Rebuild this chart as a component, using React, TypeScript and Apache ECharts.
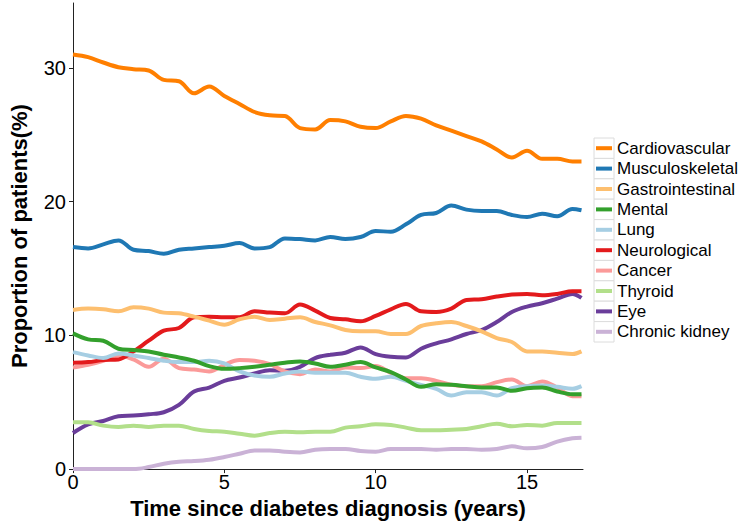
import React, { useEffect, useRef } from "react";
import * as echarts from "echarts";

const years = [0, 0.5, 1, 1.5, 2, 2.5, 3, 3.5, 4, 4.5, 5, 5.5, 6, 6.5, 7, 7.5, 8, 8.5, 9, 9.5, 10, 10.5, 11, 11.5, 12, 12.5, 13, 13.5, 14, 14.5, 15, 15.5, 16, 16.5, 16.8];

const cardiovascular = [31.0, 30.8, 30.4, 30.05, 29.9, 29.8, 29.1, 29.0, 28.1, 28.6, 27.9, 27.3, 26.7, 26.45, 26.4, 25.5, 25.4, 26.1, 26.0, 25.6, 25.5, 26.0, 26.4, 26.2, 25.7, 25.3, 24.9, 24.5, 23.9, 23.3, 23.8, 23.2, 23.2, 23.0, 23.0];
const musculoskeletal = [16.6, 16.5, 16.8, 17.1, 16.4, 16.3, 16.1, 16.4, 16.5, 16.6, 16.7, 16.9, 16.5, 16.6, 17.25, 17.2, 17.1, 17.35, 17.2, 17.35, 17.8, 17.75, 18.3, 19.0, 19.15, 19.7, 19.4, 19.3, 19.3, 19.0, 18.85, 19.1, 18.9, 19.45, 19.35];
const gastrointestinal = [11.9, 12.0, 11.95, 11.8, 12.1, 12.0, 11.7, 11.65, 11.4, 11.1, 10.8, 11.2, 11.4, 11.15, 11.25, 11.35, 11.0, 10.75, 10.4, 10.3, 10.3, 10.1, 10.1, 10.7, 10.9, 11.0, 10.7, 10.3, 9.8, 9.5, 8.8, 8.8, 8.7, 8.6, 8.8];
const mental = [10.15, 9.7, 9.6, 9.0, 8.9, 8.8, 8.55, 8.35, 8.1, 7.7, 7.5, 7.55, 7.65, 7.8, 7.95, 8.05, 7.9, 7.65, 7.8, 8.0, 7.6, 7.25, 6.7, 6.15, 6.35, 6.3, 6.2, 6.1, 6.1, 5.85, 6.05, 6.1, 5.8, 5.6, 5.6];
const lung = [8.75, 8.5, 8.3, 8.65, 8.5, 8.3, 8.1, 8.0, 8.0, 8.1, 7.9, 7.3, 7.0, 6.9, 7.15, 7.3, 7.2, 7.2, 7.2, 6.9, 6.75, 6.9, 6.6, 6.3, 6.0, 5.5, 5.75, 5.75, 5.5, 6.05, 6.2, 6.25, 6.15, 6.0, 6.2];
const neurological = [7.95, 8.0, 8.15, 8.2, 8.8, 9.6, 10.35, 10.55, 11.35, 11.4, 11.35, 11.35, 11.8, 11.7, 11.65, 12.3, 11.85, 11.3, 11.2, 11.05, 11.45, 11.95, 12.35, 11.8, 11.75, 12.0, 12.65, 12.7, 12.9, 13.05, 13.1, 13.0, 13.1, 13.3, 13.3];
const cancer = [7.6, 7.8, 8.1, 8.5, 8.2, 7.65, 8.25, 7.55, 7.45, 7.3, 7.8, 8.15, 8.1, 7.85, 7.3, 7.1, 7.45, 7.3, 7.6, 7.55, 7.7, 7.2, 6.8, 6.8, 6.6, 6.3, 6.2, 6.2, 6.5, 6.7, 6.2, 6.55, 6.1, 5.45, 5.45];
const thyroid = [3.5, 3.5, 3.25, 3.15, 3.25, 3.15, 3.25, 3.25, 3.0, 2.85, 2.8, 2.65, 2.5, 2.7, 2.8, 2.75, 2.8, 2.8, 3.1, 3.2, 3.35, 3.3, 3.1, 2.9, 2.9, 2.95, 3.0, 3.2, 3.4, 3.2, 3.3, 3.25, 3.45, 3.45, 3.45];
const eye = [2.7, 3.35, 3.6, 3.95, 4.0, 4.1, 4.25, 4.8, 5.8, 6.1, 6.6, 6.85, 7.15, 7.4, 7.35, 7.65, 8.3, 8.55, 8.7, 9.1, 8.6, 8.4, 8.35, 9.0, 9.4, 9.7, 10.1, 10.4, 11.0, 11.75, 12.15, 12.4, 12.75, 13.1, 12.8];
const chronicKidney = [0, 0, 0, 0, 0, 0.15, 0.4, 0.55, 0.6, 0.7, 0.9, 1.15, 1.4, 1.4, 1.3, 1.25, 1.45, 1.5, 1.5, 1.35, 1.3, 1.5, 1.5, 1.5, 1.45, 1.5, 1.5, 1.45, 1.5, 1.7, 1.55, 1.65, 2.05, 2.3, 2.35];

const seriesNames = ["Cardiovascular", "Musculoskeletal", "Gastrointestinal", "Mental", "Lung", "Neurological", "Cancer", "Thyroid", "Eye", "Chronic kidney"];
const seriesValues = [cardiovascular, musculoskeletal, gastrointestinal, mental, lung, neurological, cancer, thyroid, eye, chronicKidney];
const seriesColors = ["#ff7f00", "#1f78b4", "#fdbf6f", "#33a02c", "#a6cee3", "#e31a1c", "#fb9a99", "#b2df8a", "#6a3d9a", "#cab2d6"];

const xTicks = [0, 5, 10, 15];
const yTicks = [0, 10, 20, 30];

const FONT = "'Liberation Sans', Arial, Helvetica, sans-serif";

export default function App() {
  const ref = useRef<HTMLDivElement>(null);
  useEffect(() => {
    document.body.style.margin = "0";
    if (!ref.current) return;
    const chart = echarts.init(ref.current, null, { renderer: "svg" });
    const rowH = 20.4;
    const keyBoxes = seriesNames.map((_, i) => ({
      type: "rect",
      shape: { x: 594, y: 138 + i * rowH, width: 20, height: rowH },
      style: { fill: "#ffffff", stroke: "#dcdcdc", lineWidth: 1 },
      z: 0,
      silent: true,
    }));
    chart.setOption({
      animation: false,
      backgroundColor: "#ffffff",
      textStyle: { fontFamily: FONT },
      grid: { left: 68, right: 161, top: 3, bottom: 48, containLabel: false },
      graphic: keyBoxes,
      legend: {
        orient: "vertical",
        left: 596,
        top: 138,
        padding: 0,
        itemGap: 0,
        itemWidth: 16,
        itemHeight: 4,
        icon: "rect",
        data: seriesNames.map((n, i) => ({ name: n, itemStyle: { color: seriesColors[i] } })),
        textStyle: { fontSize: 17, color: "#000", fontFamily: FONT, lineHeight: rowH, padding: [0, 0, 0, 0] },
        itemStyle: { borderWidth: 0 },
        selectedMode: false,
        z: 5,
      },
      xAxis: {
        type: "value",
        min: 0,
        max: 16.85,
        interval: 5,
        name: "Time since diabetes diagnosis (years)",
        nameLocation: "middle",
        nameGap: 21,
        nameTextStyle: { fontSize: 22, fontWeight: "bold", color: "#000", fontFamily: FONT },
        axisLine: { show: true, lineStyle: { color: "#222", width: 1 } },
        axisTick: { show: true, length: 4, lineStyle: { color: "#222" }, customValues: xTicks },
        axisLabel: { fontSize: 20, color: "#000", margin: 3, customValues: xTicks, fontFamily: FONT },
        splitLine: { show: false },
      },
      yAxis: {
        type: "value",
        min: 0,
        max: 34.85,
        interval: 10,
        name: "Proportion of patients(%)",
        nameLocation: "middle",
        nameGap: 43,
        nameRotate: 90,
        nameTextStyle: { fontSize: 22, fontWeight: "bold", color: "#000", fontFamily: FONT },
        axisLine: { show: true, lineStyle: { color: "#222", width: 1 } },
        axisTick: { show: true, length: 4, lineStyle: { color: "#222" }, customValues: yTicks },
        axisLabel: { fontSize: 20, color: "#000", margin: 7, customValues: yTicks, fontFamily: FONT },
        splitLine: { show: false },
      },
      series: seriesNames.map((n, i) => ({
        name: n,
        type: "line",
        smooth: 0.35,
        symbol: "none",
        color: seriesColors[i],
        lineStyle: { width: 4, color: seriesColors[i] },
        data: years.map((x, j) => [x, seriesValues[i][j]]),
        z: 2 + (seriesNames.length - i) * 0.01,
      })),
    });
    return () => chart.dispose();
  }, []);
  return <div ref={ref} style={{ width: 744, height: 524 }} />;
}
